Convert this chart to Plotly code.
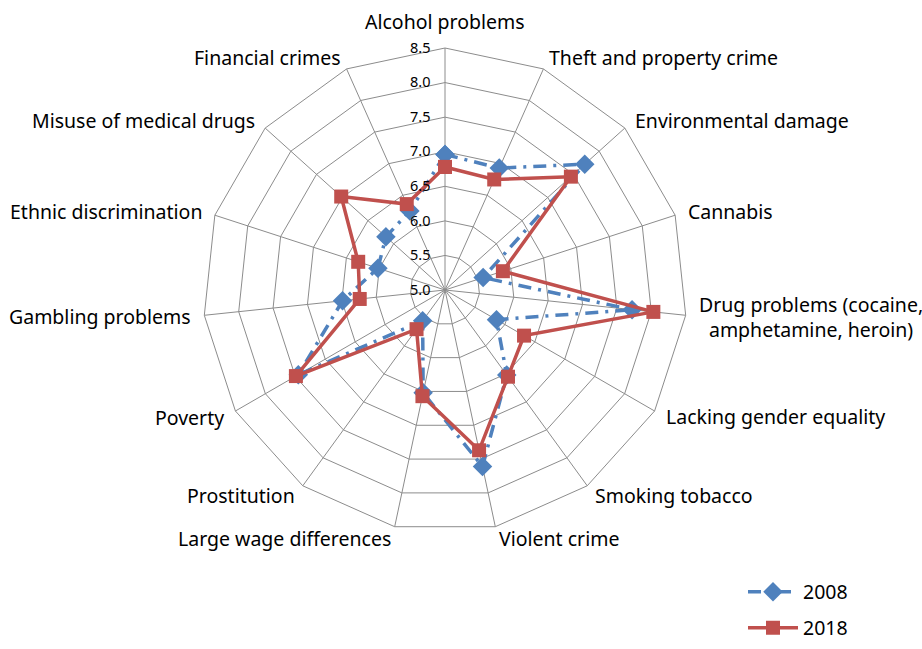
import math
import plotly.graph_objects as go

categories = [
    "Alcohol problems", "Theft and property crime", "Environmental damage", "Cannabis",
    "Drug problems (cocaine,<br>amphetamine, heroin)", "Lacking gender equality",
    "Smoking tobacco", "Violent crime", "Large wage differences", "Prostitution",
    "Poverty", "Gambling problems", "Ethnic discrimination", "Misuse of medical drugs",
    "Financial crimes",
]
values_2008 = [6.96, 6.93, 7.72, 5.58, 7.72, 5.86, 6.52, 7.61, 6.52, 5.55, 7.45, 6.49, 6.02, 6.15, 6.25]
values_2018 = [6.78, 6.75, 7.45, 5.88, 8.03, 6.32, 6.55, 7.37, 6.57, 5.70, 7.49, 6.24, 6.32, 7.02, 6.36]
radial_ticks = [5.0, 5.5, 6.0, 6.5, 7.0, 7.5, 8.0, 8.5]

BLUE = "#4F81BD"
RED = "#C0504D"
GRID = "#8c8c8c"
FONT = "Noto Sans, Liberation Sans, sans-serif"

fig = go.Figure()
fig.add_trace(go.Scatterpolar(
    r=values_2008 + values_2008[:1], theta=categories + categories[:1],
    mode="lines+markers", name="2008", legend="legend",
    line=dict(color=BLUE, width=3.5, dash="13px,7px,3px,7px"),
    marker=dict(symbol="diamond", size=15, color=BLUE),
))
fig.add_trace(go.Scatterpolar(
    r=values_2018 + values_2018[:1], theta=categories + categories[:1],
    mode="lines+markers", name="2018", legend="legend2",
    line=dict(color=RED, width=3.5),
    marker=dict(symbol="square", size=14, color=RED),
))

W, H = 922, 649
cx, cy, R = 445, 290, 242


def fx(px):
    return px / W


def fy(py):
    # pixel row from the top of the figure -> fraction from the bottom
    return (H - py) / H


# category labels placed just outside each polygon vertex
annotations = []
n = len(categories)
for k, name in enumerate(categories):
    a = math.radians(360.0 * k / n)
    s, c = math.sin(a), math.cos(a)
    rr = R + 12
    px = cx + rr * s
    py = cy - rr * c
    if s > 0.05:
        xa = "left"
    elif s < -0.05:
        xa = "right"
    else:
        xa = "center"
    ya = "bottom" if (c > 0.99) else "middle"
    annotations.append(dict(
        x=fx(px), y=fy(py), xref="paper", yref="paper",
        text=name, showarrow=False, xanchor=xa, yanchor=ya, align="center",
        font=dict(size=19.5, family=FONT, color="black"), borderpad=0,
    ))

fig.update_layout(
    width=W, height=H,
    margin=dict(l=0, r=0, t=0, b=0),
    paper_bgcolor="white", plot_bgcolor="white",
    font=dict(family=FONT, color="black"),
    showlegend=True,
    annotations=annotations,
    polar=dict(
        domain=dict(x=[fx(cx - R), fx(cx + R)], y=[fy(cy + R), fy(cy - R)]),
        gridshape="linear",
        bgcolor="white",
        angularaxis=dict(
            rotation=90, direction="clockwise",
            showticklabels=False,
            showline=True, linecolor=GRID, linewidth=1,
            gridcolor=GRID, gridwidth=1,
            ticks="",
        ),
        radialaxis=dict(
            range=[5, 8.5], tickvals=radial_ticks, tickformat=".1f",
            angle=90, tickangle=90, side="counterclockwise",
            tickfont=dict(size=14.5),
            showline=False, ticks="outside", ticklen=9, tickcolor="rgba(0,0,0,0)",
            gridcolor=GRID, gridwidth=1,
        ),
    ),
    legend=dict(x=fx(743), y=fy(592), xanchor="left", yanchor="middle",
                font=dict(size=19.5), itemwidth=50, bgcolor="rgba(0,0,0,0)"),
    legend2=dict(x=fx(743), y=fy(628), xanchor="left", yanchor="middle",
                 font=dict(size=19.5), itemwidth=50, bgcolor="rgba(0,0,0,0)"),
)

fig.write_html("out.html", config={"displayModeBar": False},
               post_script="document.body.style.margin='0';")
